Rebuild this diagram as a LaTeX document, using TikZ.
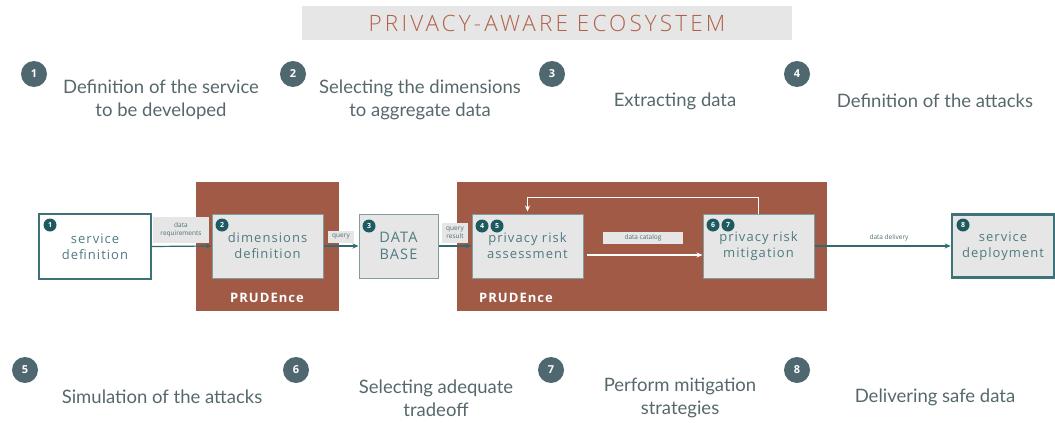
\documentclass[tikz,border=0pt]{standalone}
\usepackage{fontspec}
\setmainfont{Lato}
\newfontfamily\boxfont[LetterSpace=8]{Open Sans}
\newfontfamily\titlefont[LetterSpace=14]{Open Sans Light}
\newfontfamily\numfont{Open Sans}
\usetikzlibrary{arrows.meta}
\definecolor{rust}{HTML}{A15A45}
\definecolor{titlerust}{HTML}{B0624A}
\definecolor{lgray}{HTML}{E6E6E6}
\definecolor{tealb}{HTML}{3D7378}
\definecolor{tealg}{HTML}{7F9C9E}
\definecolor{boxtext}{HTML}{4E7B80}
\definecolor{darkteal}{HTML}{1E5A60}
\definecolor{slate}{HTML}{4F6870}
\definecolor{steptext}{HTML}{56686C}
\definecolor{arrowteal}{HTML}{2F6A70}
\definecolor{labtext}{HTML}{4E6E72}
\tikzset{
  procbox/.style={draw=tealg, line width=1pt, fill=lgray, text=boxtext,
    font=\boxfont\fontsize{13}{16}\selectfont, align=center, inner sep=0pt},
  prudbox/.style={fill=rust, draw=none},
  prudlabel/.style={text=white, font=\boxfont\bfseries\fontsize{13}{16}\selectfont},
  numc/.style={circle, fill=slate, text=white, minimum size=26, inner sep=0pt,
    font=\numfont\bfseries\fontsize{11}{11}\selectfont},
  smallc/.style={circle, fill=darkteal, text=white, minimum size=13, inner sep=0pt,
    font=\numfont\bfseries\fontsize{7}{7}\selectfont},
  steptxt/.style={text=steptext, align=center, font=\fontsize{18.5}{23}\selectfont},
  lab/.style={fill=lgray, text=labtext, align=center, inner sep=1.5pt,
    font=\numfont\fontsize{6.5}{8}\selectfont},
  tarrow/.style={draw=arrowteal, line width=1.2pt, -{Stealth[length=6pt,width=5pt]}},
  warrow/.style={draw=white, line width=1.2pt, -{Stealth[length=6pt,width=5pt]}},
}
\begin{document}
\begin{tikzpicture}[x=1pt,y=-1pt]
\useasboundingbox (0,0) rectangle (1055,423);
% title
\node[fill=lgray, minimum width=490, minimum height=34, inner sep=0pt,
  text=titlerust, font=\titlefont\fontsize{22.5}{24}\selectfont] (title) at (547,23) {PRIVACY-AWARE ECOSYSTEM};
% top steps
\node[numc] (n1) at (34,74) {1};
\node[steptxt] (s1) at (161,100) {Definition of the service\\to be developed};
\node[numc] (n2) at (293,74) {2};
\node[steptxt] (s2) at (420,100) {Selecting the dimensions\\to aggregate data};
\node[numc] (n3) at (552,74) {3};
\node[steptxt] (s3) at (675,101) {Extracting data};
\node[numc] (n4) at (797,74) {4};
\node[steptxt] (s4) at (935,101) {Definition of the attacks};
% bottom steps
\node[numc] (n5) at (25,370) {5};
\node[steptxt] (s5) at (162,397) {Simulation of the attacks};
\node[numc] (n6) at (296,370) {6};
\node[steptxt] (s6) at (436,398) {Selecting adequate\\tradeoff};
\node[numc] (n7) at (551,370) {7};
\node[steptxt] (s7) at (680,398) {Perform mitigation\\strategies};
\node[numc] (n8) at (797,370) {8};
\node[steptxt] (s8) at (935,397) {Delivering safe data};
% PRUDEnce blocks
\node[prudbox, minimum width=143, minimum height=129, inner sep=0pt] (p1) at (267.5,246.5) {};
\node[prudbox, minimum width=370, minimum height=129, inner sep=0pt] (p2) at (642,246.5) {};
\node[prudlabel] (pl1) at (267,298) {PRUDEnce};
\node[prudlabel] (pl2) at (516,298) {PRUDEnce};
% process boxes
\node[procbox, fill=white, draw=tealb, line width=1.3pt, minimum width=112, minimum height=65] (sd) at (95,246.5) {service\\definition};
\node[procbox, minimum width=111, minimum height=64] (dim) at (267.5,246) {dimensions\\definition};
\node[procbox, text width=79, minimum height=64, font=\boxfont\fontsize{14.5}{16.5}\selectfont] (db) at (398.5,246) {DATA\\BASE};
\node[procbox, minimum width=111, minimum height=64] (ass) at (527.5,246) {privacy risk\\assessment};
\node[procbox, minimum width=111, minimum height=64] (mit) at (758.5,246) {privacy risk\\mitigation};
\node[procbox, draw=tealb, line width=2.6pt, minimum width=102, minimum height=63] (dep) at (1003,246) {service\\deployment};
% small number circles
\node[smallc] (c1) at (50,225) {1};
\node[smallc] (c2) at (222,225) {2};
\node[smallc] (c3) at (369,226) {3};
\node[smallc] (c4) at (482,226) {4};
\node[smallc] (c5) at (497,226) {5};
\node[smallc] (c6) at (713,225) {6};
\node[smallc] (c7) at (728,225) {7};
\node[smallc] (c8) at (963,225) {8};
% connectors
\draw[tarrow] (sd.east) -- (dim.west);
\draw[tarrow] (dim.east) -- (db.west);
\draw[tarrow] (db.east) -- (ass.west);
\draw[tarrow] (mit.east) -- (dep.west);
\draw[warrow] ([xshift=3pt,yshift=-9pt]ass.east) -- ([yshift=-9pt]mit.west);
\draw[warrow] (mit.north) -- ++(0,-16) -| ([yshift=2pt]ass.north);
% labels
\node[lab, minimum width=56, minimum height=26] (l1) at (181,230) {data\\requirements};
\node[lab, minimum width=26, minimum height=12] (l2) at (341,237) {query};
\node[lab, minimum width=26, minimum height=20] (l3) at (455,233) {query\\result};
\node[lab, minimum width=80, minimum height=12] (l4) at (643,238) {data catalog};
\node[text=labtext, font=\numfont\fontsize{6.5}{8}\selectfont] (l5) at (889,238) {data delivery};
\end{tikzpicture}
\end{document}
